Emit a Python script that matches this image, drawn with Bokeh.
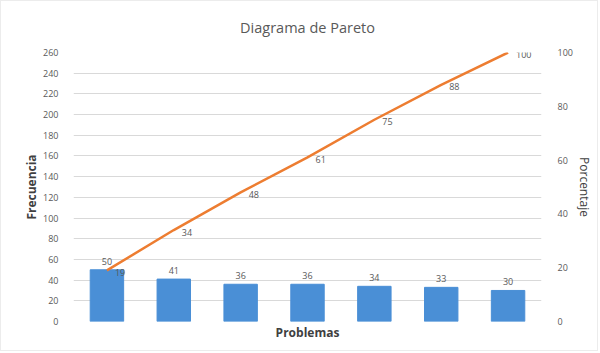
from bokeh.plotting import figure
from bokeh.models import Range1d, LinearAxis, FixedTicker, ColumnDataSource, LabelSet, Title
from bokeh.core.properties import value
from bokeh.embed import file_html
from bokeh.resources import INLINE

categories = ["P1", "P2", "P3", "P4", "P5", "P6", "P7"]
frecuencia = [50, 41, 36, 36, 34, 33, 30]
porcentaje = [19, 34, 48, 61, 75, 88, 100]
left_ticks = list(range(0, 261, 20))
right_ticks = [0, 20, 40, 60, 80, 100]

FONT = "Open Sans"
GRAY = "#595959"
DARK = "#404040"

p = figure(x_range=categories, y_range=Range1d(0, 260), width=598, height=351,
           output_backend="svg", toolbar_location=None,
           min_border_left=72, min_border_right=58, min_border_top=51, min_border_bottom=31)
p.styles = {"border": "1px solid #ececec"}
p.title.text = "Diagrama de Pareto"
p.title.align = "center"
p.title.vertical_align = "top"
p.title.text_font = FONT
p.title.text_font_size = "14.5px"
p.title.text_font_style = "normal"
p.title.text_color = GRAY
p.title.standoff = 27

p.outline_line_color = None
p.xgrid.grid_line_color = None
p.ygrid.grid_line_color = "#d9d9d9"
p.ygrid.ticker = FixedTicker(ticks=left_ticks)

src = ColumnDataSource(dict(cat=categories, f=frecuencia, pc=porcentaje,
                            fl=[str(v) for v in frecuencia], pl=[str(v) for v in porcentaje]))
p.vbar(x="cat", top="f", width=0.5, source=src, color="#4A8FD6")

p.extra_y_ranges = {"pct": Range1d(0, 100)}
p.line(x="cat", y="pc", source=src, y_range_name="pct", line_color="#ED7D31", line_width=2.5)

p.add_layout(LabelSet(x="cat", y="f", text="fl", source=src, text_align="center",
                      y_offset=5, text_font=value(FONT), text_font_size=value("9px"),
                      text_color=value(GRAY)))
p.add_layout(LabelSet(x="cat", y="pc", text="pl", source=src, y_range_name="pct",
                      text_align="left", text_baseline="middle", x_offset=8, y_offset=-2,
                      text_font=value(FONT), text_font_size=value("9px"), text_color=value(GRAY)))

ya = p.yaxis[0]
ya.ticker = FixedTicker(ticks=left_ticks)
ya.axis_label = "Frecuencia"
ax2 = LinearAxis(y_range_name="pct", ticker=FixedTicker(ticks=right_ticks), axis_label="Porcentaje")
p.add_layout(ax2, "right")

for a in [ya, ax2]:
    a.axis_line_color = None
    a.major_tick_line_color = None
    a.minor_tick_line_color = None
    a.major_label_text_font = FONT
    a.major_label_text_font_size = "9px"
    a.major_label_text_color = GRAY
    a.axis_label_text_font = FONT
    a.axis_label_text_font_size = "12px"
    a.axis_label_text_color = DARK
    a.axis_label_standoff = 0
ya.major_label_standoff = 9
ax2.major_label_standoff = 10
ya.axis_label_text_font_style = "bold"
ax2.axis_label_text_font_style = "normal"

p.xaxis.visible = False
p.add_layout(Title(text="Problemas", align="center", text_font=FONT, text_font_size="12px",
                   text_font_style="bold", text_color=DARK, standoff=0), "below")

open("out.html", "w").write(file_html(p, INLINE))
